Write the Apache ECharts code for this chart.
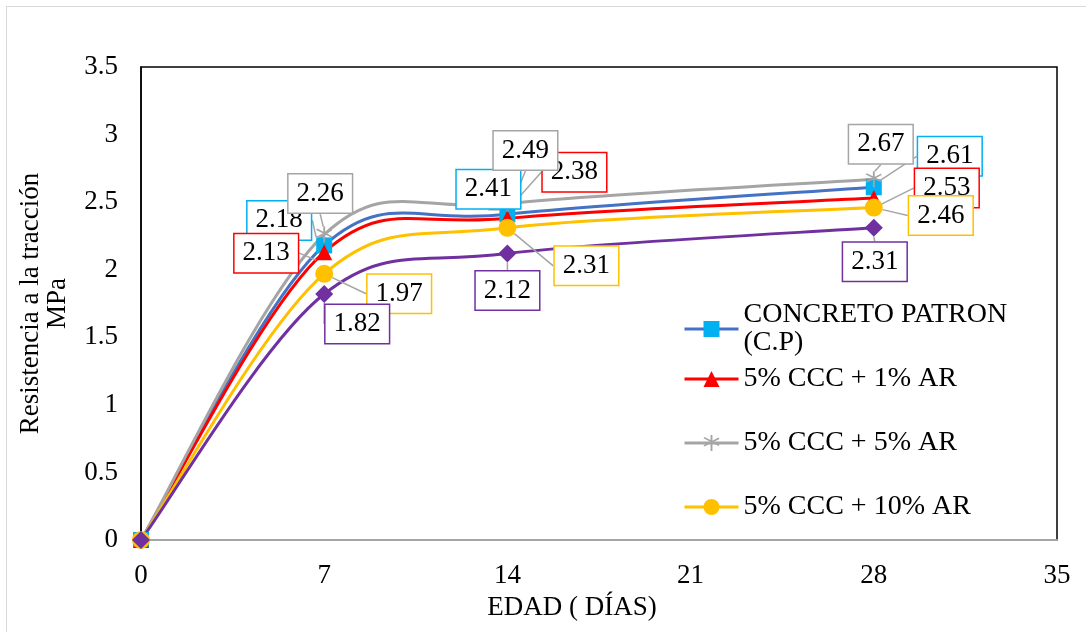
<!DOCTYPE html>
<html>
<head>
<meta charset="utf-8">
<script src="https://cdn.jsdelivr.net/npm/echarts@6/dist/echarts.min.js"></script>
<style>
  html, body { margin: 0; padding: 0; background: #fff; }
  #frame { position: absolute; left: 6px; top: 6px; width: 1100px; height: 700px; border: 1.5px solid #d9d9d9; }
  #chart { position: absolute; left: 0; top: 0; width: 1086px; height: 632px; }
</style>
</head>
<body>
<div id="frame"></div>
<div id="chart"></div>
<script>
const days = [0, 7, 14, 28]
const patron = [0, 2.18, 2.41, 2.61]
const ar1 = [0, 2.13, 2.38, 2.53]
const ar5 = [0, 2.26, 2.49, 2.67]
const ar10 = [0, 1.97, 2.31, 2.46]
const ar15 = [0, 1.82, 2.12, 2.31]

const names = ['CONCRETO PATRON\n(C.P)', '5% CCC + 1% AR', '5% CCC + 5% AR', '5% CCC + 10% AR', '5% CCC + 15% AR']
const lineColors = ['#4472C4', '#FF0000', '#A5A5A5', '#FFC000', '#7030A0']
const markColors = ['#00B0F0', '#FF0000', '#A5A5A5', '#FFC000', '#7030A0']
const asterisk = 'path://M9,0h2v20h-2z M1.5,4.2l1-1.7 16,9.5 -1,1.7z M17.5,3.2l1,1.7 -16,9.5 -1,-1.7z'
const symbols = ['rect', 'triangle', asterisk, 'circle', 'diamond']
const symbolSizes = [16, 16, 16, 18, 18]

// label box offsets from each point
const labelOffsets = [
  [null, [-45, -25], [-19, -25], [76, -31]],
  [null, [-58, 1], [67, -46], [73, -10]],
  [null, [-4, -41], [18, -53], [7, -35]],
  [null, [75, 20], [79, 38], [67, 8]],
  [null, [33, 30], [0, 37], [1, 34]],
]

const font = 'Liberation Serif'
const allValues = [patron, ar1, ar5, ar10, ar15]
const chart = echarts.init(document.getElementById('chart'))

// smoothed curve like the spreadsheet one (bezier through the points)
const curveSeries = allValues.map((vals, i) => ({
  type: 'custom',
  silent: true,
  z: 1,
  data: vals.map((v, j) => [days[j], v]),
  renderItem: (params, api) => {
    const k = params.dataIndex
    const n = vals.length
    if (k >= n - 1) return null
    const pt = (m) => {
      const c = Math.max(0, Math.min(n - 1, m))
      return api.coord([days[c], vals[c]])
    }
    const p0 = pt(k - 1), p1 = pt(k), p2 = pt(k + 1), p3 = pt(k + 2)
    return {
      type: 'bezierCurve',
      shape: {
        x1: p1[0], y1: p1[1], x2: p2[0], y2: p2[1],
        cpx1: p1[0] + (p2[0] - p0[0]) / 6, cpy1: p1[1] + (p2[1] - p0[1]) / 6,
        cpx2: p2[0] - (p3[0] - p1[0]) / 6, cpy2: p2[1] - (p3[1] - p1[1]) / 6,
      },
      style: { stroke: lineColors[i], lineWidth: 3, fill: null },
    }
  },
  animation: false,
}))

const pointSeries = allValues.map((vals, i) => ({
  name: names[i],
  type: 'line',
  z: 3,
  data: vals.map((v, j) => (j === 0 ? { value: [days[j], v], label: { show: false } } : [days[j], v])),
  symbol: symbols[i],
  symbolSize: symbolSizes[i],
  itemStyle: { color: markColors[i] },
  lineStyle: { color: lineColors[i], width: 3, opacity: 0 },
  label: {
    show: true,
    formatter: (p) => p.value[1].toFixed(2),
    fontFamily: font,
    fontSize: 27,
    color: '#000',
    backgroundColor: '#fff',
    borderColor: markColors[i],
    borderWidth: 1.5,
    padding: [7, 8, 4, 8],
  },
  labelLine: {
    show: true,
    lineStyle: { color: '#A5A5A5', width: 1.5 },
  },
  labelLayout: (p) => {
    const off = labelOffsets[p.seriesIndex - allValues.length][p.dataIndex]
    if (!off) return {}
    return {
      x: p.rect.x + p.rect.width / 2 + off[0],
      y: p.rect.y + p.rect.height / 2 + off[1],
      align: 'center',
      verticalAlign: 'middle',
    }
  },
  emphasis: { disabled: true },
  animation: false,
}))

const legendText = { fontFamily: font, fontSize: 28, color: '#000', lineHeight: 28 }
const legendBase = {
  orient: 'vertical',
  left: 683,
  padding: 0,
  itemWidth: 54,
  itemHeight: 20,
  textStyle: legendText,
  lineStyle: { width: 3, opacity: 1 },
}

chart.setOption({
  backgroundColor: 'transparent',
  grid: {
    left: 141,
    top: 67,
    right: 29,
    bottom: 92,
    outerBoundsMode: 'none',
    containLabel: false,
    show: true,
    borderColor: '#000',
    borderWidth: 1.5,
  },
  legend: [
    Object.assign({}, legendBase, { data: [names[0]], top: 301, itemGap: 0 }),
    Object.assign({}, legendBase, { data: [names[1], names[2], names[3]], top: 365, itemGap: 36 }),
  ],
  xAxis: {
    type: 'value',
    min: 0,
    max: 35,
    interval: 7,
    name: 'EDAD ( DÍAS)',
    nameLocation: 'middle',
    nameGap: 54,
    nameTextStyle: { fontFamily: font, fontSize: 27, color: '#000', padding: [0, 54, 0, 0] },
    axisLine: { lineStyle: { color: '#A5A5A5', width: 2 } },
    axisTick: { show: false },
    splitLine: { show: false },
    axisLabel: { fontFamily: font, fontSize: 27, color: '#000', margin: 22 },
  },
  yAxis: {
    type: 'value',
    min: 0,
    max: 3.5,
    interval: 0.5,
    name: 'Resistencia a la tracción\nMPa',
    nameLocation: 'middle',
    nameGap: 70,
    nameTextStyle: { fontFamily: font, fontSize: 27, color: '#000', lineHeight: 27 },
    axisLine: { show: true, lineStyle: { color: '#000', width: 1.5 } },
    axisTick: { show: false },
    splitLine: { show: false },
    axisLabel: { fontFamily: font, fontSize: 27, color: '#000', margin: 23 },
  },
  series: curveSeries.concat(pointSeries),
})
</script>
</body>
</html>
